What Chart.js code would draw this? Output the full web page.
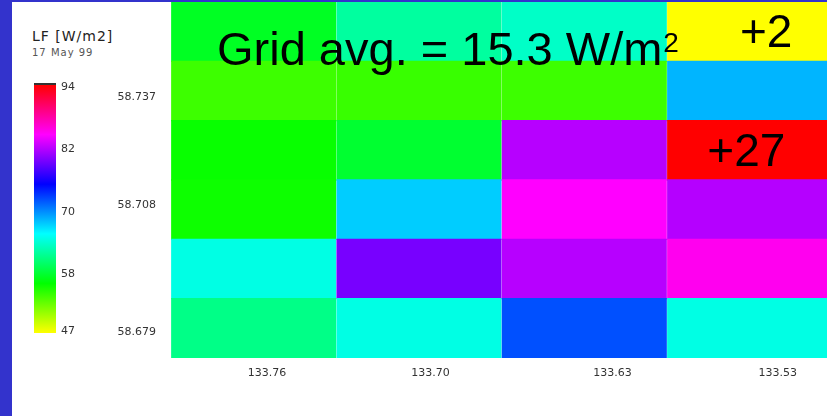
<!DOCTYPE html>
<html lang="en">
  <head>
    <meta charset="UTF-8" />
    <title>LF grid</title>
    <script src="https://cdn.jsdelivr.net/npm/chart.js"></script>
    <style>
      html, body {
        margin: 0;
        padding: 0;
        background: #ffffff;
      }
      .page {
        position: relative;
        width: 827px;
        height: 416px;
        overflow: hidden;
        font-family: "DejaVu Sans", sans-serif;
      }
      .edge-left {
        position: absolute;
        left: 0; top: 0;
        width: 12px; height: 416px;
        background: #3333cc;
      }
      .edge-top {
        position: absolute;
        left: 0; top: 0;
        width: 827px; height: 2px;
        background: #3333cc;
      }
      .unit {
        position: absolute;
        left: 32px; top: 28px;
        font-size: 14px;
        letter-spacing: 1px;
        color: #222;
      }
      .date {
        position: absolute;
        left: 32px; top: 47px;
        font-size: 10px;
        letter-spacing: 1px;
        color: #555;
      }
      .colorbar {
        position: absolute;
        left: 34px; top: 83px;
        width: 22px; height: 250px;
        border-top: 2px solid #333;
        box-sizing: border-box;
      }
      .cb-label {
        position: absolute;
        left: 61px;
        font-size: 11px;
        color: #333;
        transform: translateY(-50%);
      }
      canvas {
        position: absolute;
        left: 0; top: 0;
      }
    </style>
  </head>
  <body>
    <div class="page" id="page">
      <div class="edge-left"></div>
      <div class="edge-top"></div>
      <div class="unit">LF [W/m2]</div>
      <div class="date">17 May 99</div>
      <div class="colorbar" id="colorbar"></div>
      <canvas id="grid" width="827" height="416"></canvas>
    </div>

    <script>
      // cell values, W/m2, rows listed top to bottom, columns left to right
      const row0 = [57.4, 62.1, 63.6, 46.5];
      const row1 = [53.8, 54.0, 53.8, 68.5];
      const row2 = [55.8, 57.9, 82.2, 94.5];
      const row3 = [55.6, 67.6, 84.9, 82.1];
      const row4 = [64.7, 79.8, 82.2, 85.5];
      const row5 = [61.2, 64.7, 72.3, 64.7];
      const rows = [row0, row1, row2, row3, row4, row5];

      const lonLabels = ["133.76", "133.70", "133.63", "133.53"];
      const lonTickAt = [0.08, 1.07, 2.17, 3.17]; // in column units
      const latLabels = ["58.737", "58.708", "58.679"];
      const latTickAt = [4.4, 2.58, 0.44]; // in row units from the bottom

      const colorbarLabels = [94, 82, 70, 58, 47];
      const vMin = 46.5;
      const vMax = 94.5;

      const avgText = "Grid avg. = 15.3 W/m";
      const notes = [
        { x: 3.1, row: 0, text: "+2" },
        { x: 2.98, row: 2, text: "+27" },
      ];

      // yellow -> green -> cyan -> blue -> magenta -> red
      function colorFor(v) {
        const t = Math.min(1, Math.max(0, (v - vMin) / (vMax - vMin)));
        return "hsl(" + (60 + t * 300) + ", 100%, 50%)";
      }

      // colour bar + its labels
      const bar = document.getElementById("colorbar");
      bar.style.background =
        "linear-gradient(to bottom, hsl(360,100%,50%), hsl(300,100%,50%), hsl(240,100%,50%), hsl(180,100%,50%), hsl(120,100%,50%), hsl(60,100%,50%))";
      const page = document.getElementById("page");
      colorbarLabels.forEach((v) => {
        const el = document.createElement("div");
        el.className = "cb-label";
        el.textContent = v;
        el.style.top = 83 + ((vMax - v) / (vMax - vMin)) * 250 + "px";
        page.appendChild(el);
      });

      const cells = [];
      const colors = [];
      rows.forEach((r, ri) => {
        const bottom = rows.length - 1 - ri;
        r.forEach((v, ci) => {
          cells.push({ x: ci, y: [bottom, bottom + 1] });
          colors.push(colorFor(v));
        });
      });

      const textPlugin = {
        id: "gridText",
        afterDatasetsDraw(chart) {
          const { ctx, chartArea, scales } = chart;
          ctx.save();
          ctx.fillStyle = "#000";
          ctx.textBaseline = "alphabetic";
          ctx.textAlign = "left";
          ctx.font = '47px "Liberation Sans", Arial, sans-serif';
          const x0 = chartArea.left + 46;
          ctx.fillText(avgText, x0, 65);
          const w = ctx.measureText(avgText).width;
          ctx.font = '28px "Liberation Sans", Arial, sans-serif';
          ctx.fillText("2", x0 + w + 1, 52);

          ctx.font = '46px "Liberation Sans", Arial, sans-serif';
          ctx.textAlign = "center";
          ctx.textBaseline = "middle";
          notes.forEach((n) => {
            const yMid = rows.length - 1 - n.row + 0.5;
            ctx.fillText(n.text, scales.x.getPixelForValue(n.x), scales.y.getPixelForValue(yMid) + 3);
          });
          ctx.restore();
        },
      };

      const tickFont = { family: "DejaVu Sans", size: 11 };

      function noPadding(scale) {
        scale.paddingTop = 0;
        scale.paddingBottom = 0;
        scale.paddingLeft = 0;
        scale.paddingRight = 0;
      }

      new Chart(document.getElementById("grid"), {
        type: "bar",
        data: {
          datasets: [
            {
              data: cells,
              backgroundColor: colors,
              borderWidth: 0,
              inflateAmount: 0.7,
              barPercentage: 1,
              categoryPercentage: 1,
            },
          ],
        },
        options: {
          responsive: false,
          animation: false,
          layout: { padding: { top: 2, left: 0, right: 0, bottom: 0 } },
          plugins: {
            legend: { display: false },
            tooltip: { enabled: false },
          },
          scales: {
            x: {
              type: "linear",
              offset: false,
              min: -0.5,
              max: 3.468,
              grid: { display: false, drawTicks: false },
              border: { display: false },
              afterBuildTicks: (scale) => {
                scale.ticks = lonTickAt.map((value) => ({ value }));
              },
              afterFit: (scale) => {
                scale.height = 58;
                noPadding(scale);
              },
              ticks: {
                autoSkip: false,
                maxRotation: 0,
                padding: 9,
                color: "#333",
                font: tickFont,
                callback: (value, index) => lonLabels[index],
              },
            },
            y: {
              type: "linear",
              offset: false,
              min: 0,
              max: 6,
              grid: { display: false, drawTicks: false },
              border: { display: false },
              afterBuildTicks: (scale) => {
                scale.ticks = latTickAt.map((value) => ({ value }));
              },
              afterFit: (scale) => {
                scale.width = 171;
                noPadding(scale);
              },
              ticks: {
                autoSkip: false,
                padding: 15,
                color: "#333",
                font: tickFont,
                callback: (value, index) => latLabels[index],
              },
            },
          },
        },
        plugins: [textPlugin],
      });
    </script>
  </body>
</html>
